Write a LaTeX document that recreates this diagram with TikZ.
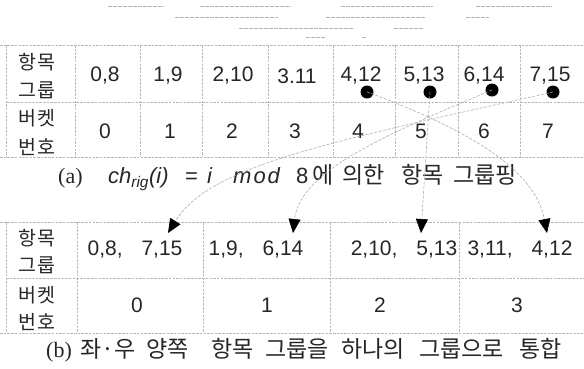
\documentclass[tikz,border=0pt]{standalone}
\usepackage{fontspec}
\setmainfont{Liberation Sans}
\newfontfamily\krl{Noto Sans CJK KR}
\newfontfamily\rmser{Liberation Serif}
\usetikzlibrary{arrows.meta}
\newcommand{\krcap}{\krl\fontsize{23}{25}\selectfont}
\begin{document}
\begin{tikzpicture}[x=1pt,y=-1pt,
  gridl/.style={gray!55, line width=0.5pt, dash pattern=on 2.5pt off 1.2pt},
  frag/.style={gray!60, line width=0.6pt, dash pattern=on 4pt off 1pt},
  item/.style={font=\fontsize{21}{23}\selectfont, inner sep=0pt, text=black!85},
  lbl/.style={font=\krl\fontsize{19.5}{21}\selectfont, inner sep=0pt, text=black!85},
  captxt/.style={font=\fontsize{22}{24}\selectfont, inner sep=0pt, text=black!85},
  dotn/.style={circle, fill=black, inner sep=0pt, minimum size=13pt},
  conn/.style={gray!70, line width=0.55pt, dash pattern=on 3pt off 1.5pt,
    -{Triangle[length=14pt,width=12pt,black]}}]
\useasboundingbox (0,0) rectangle (584,368);

% scan fragments at the top
\draw[frag] (108,6) -- (164,6) (200,6) -- (291,6) (341,6) -- (433,6) (476,6) -- (552,6);
\draw[frag] (175,17) -- (278,17) (326,17) -- (425,17) (466,17) -- (489,17);
\draw[frag] (239,28) -- (354,28) (394,28) -- (424,28);
\draw[frag] (306,37) -- (325,37) (362,37) -- (366,37);

% ---- table (a) grid ----
\draw[gridl] (0,45) -- (584,45);
\draw[gridl] (6,102) -- (584,102);
\draw[gridl] (0,157) -- (584,157);
\draw[gridl] (6,45) -- (6,157);
\draw[gridl] (75,45) -- (75,157);
\foreach \x in {140,202,268,333,395,458,520}
  \draw[gridl] (\x,45) -- (\x,157);

% ---- table (b) grid ----
\draw[gridl] (0,222) -- (584,222);
\draw[gridl] (6,278) -- (584,278);
\draw[gridl] (0,333) -- (584,333);
\draw[gridl] (6,222) -- (6,333);
\draw[gridl] (77,222) -- (77,333);
\foreach \x in {203,330,459}
  \draw[gridl] (\x,222) -- (\x,333);

% labels (a)
\node[lbl] (la1) at (37,62) {항\hspace{1pt}목};
\node[lbl] (la2) at (37,90) {그\hspace{1pt}룹};
\node[lbl] (la3) at (37,118) {버\hspace{1pt}켓};
\node[lbl] (la4) at (37,147) {번\hspace{1pt}호};
% labels (b)
\node[lbl] (lb1) at (37,238) {항\hspace{1pt}목};
\node[lbl] (lb2) at (37,265) {그\hspace{1pt}룹};
\node[lbl] (lb3) at (37,295) {버\hspace{1pt}켓};
\node[lbl] (lb4) at (37,322) {번\hspace{1pt}호};

% items (a)
\node[item] (t0) at (105,76) {0,8};
\node[item] (t1) at (168,76) {1,9};
\node[item] (t2) at (233,76) {2,10};
\node[item] (t3) at (297,76) {3.11};
\node[item] (t4) at (361,76) {4,12};
\node[item] (t5) at (424,76) {5,13};
\node[item] (t6) at (484,76) {6,14};
\node[item] (t7) at (550,76) {7,15};
% buckets (a)
\node[item] (b0) at (105,131) {0};
\node[item] (b1) at (170,131) {1};
\node[item] (b2) at (232,131) {2};
\node[item] (b3) at (295,131) {3};
\node[item] (b4) at (358,131) {4};
\node[item] (b5) at (421,131) {5};
\node[item] (b6) at (484,131) {6};
\node[item] (b7) at (548,131) {7};

% dots
\node[dotn] (d4) at (367,92) {};
\node[dotn] (d5) at (430,92) {};
\node[dotn] (d6) at (492,90) {};
\node[dotn] (d7) at (553,92) {};

% caption (a)
\node[captxt, anchor=base west] (capa) at (58,183)
  {\makebox[50pt][l]{\rmser (a)}\makebox[77pt][l]{\itshape ch\textsubscript{rig}(i)}\makebox[22pt][l]{=}\makebox[26pt][l]{\itshape i}\makebox[63pt][l]{\itshape m\hspace{2pt}o\hspace{2pt}d}\makebox[16pt][l]{8}\krcap\makebox[30pt][l]{에}\makebox[59pt][l]{의한}\makebox[52pt][l]{항목}그룹핑};

% items (b)
\node[item] (u0) at (135,250) {0,8,\hspace{0.9em}7,15};
\node[item] (u1) at (256,250) {1,9,\hspace{0.9em}6,14};
\node[item] (u2) at (404,250) {2,10,\hspace{0.9em}5,13};
\node[item] (u3) at (520,250) {3,11,\hspace{0.9em}4,12};
% buckets (b)
\node[item] (v0) at (137,305) {0};
\node[item] (v1) at (267,305) {1};
\node[item] (v2) at (380,305) {2};
\node[item] (v3) at (517,305) {3};

% arrow targets
\coordinate (a0) at (168,233);
\coordinate (a1) at (293,233);
\coordinate (a2) at (421,233);
\coordinate (a3) at (547,233);

% connectors
\draw[conn] (d7.center) .. controls (330,142) and (210,165) .. (a0);
\draw[conn] (d6.center) .. controls (390,133) and (300,170) .. (a1);
\draw[conn] (d5.center) -- (a2);
\draw[conn] (d4.center) .. controls (470,130) and (535,170) .. (a3);

% caption (b)
\node[captxt, anchor=base west] (capb) at (46,357)
  {\makebox[34pt][l]{\rmser (b)}\krcap\makebox[66pt][l]{좌·우}\makebox[65pt][l]{양쪽}\makebox[54pt][l]{항목}\makebox[76pt][l]{그룹을}\makebox[78pt][l]{하나의}\makebox[100pt][l]{그룹으로}통합};
\end{tikzpicture}
\end{document}
